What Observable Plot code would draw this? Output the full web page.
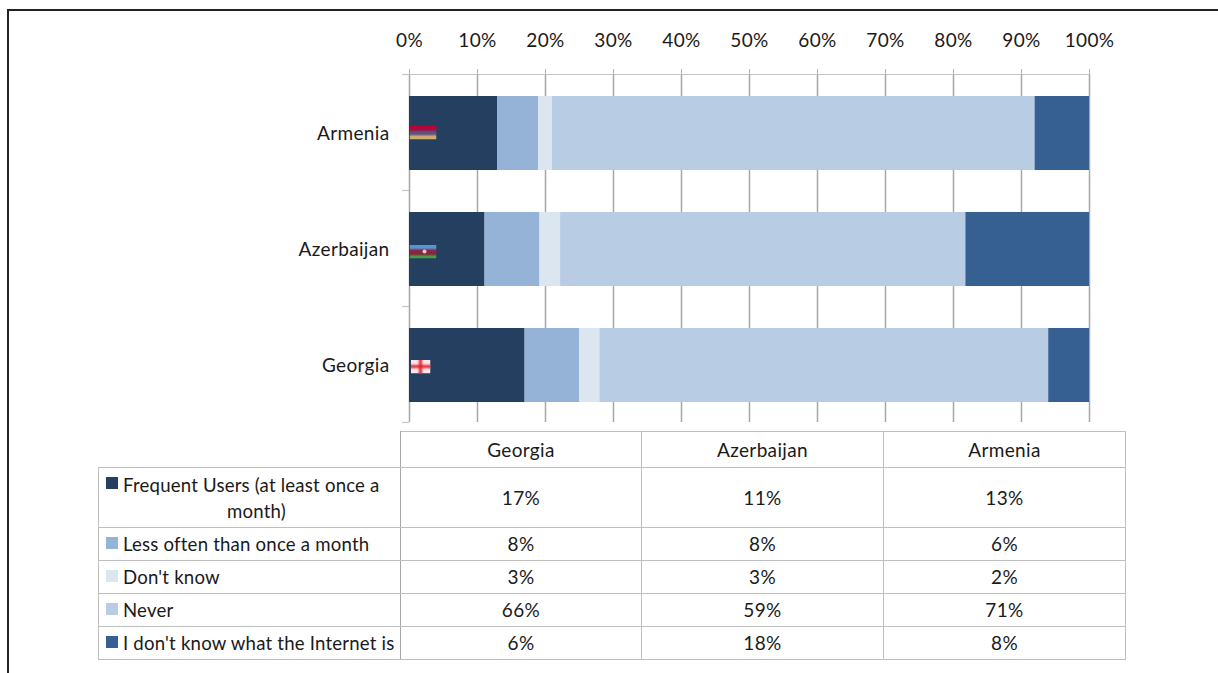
<!DOCTYPE html>
<html><head><meta charset="utf-8">
<script src="https://cdn.jsdelivr.net/npm/d3@7"></script>
<script src="https://cdn.jsdelivr.net/npm/@observablehq/plot@0.6"></script>
<style>
html,body{margin:0;padding:0;background:#fff;width:1218px;height:673px;overflow:hidden}
body{font-family:Lato,"Noto Sans",sans-serif;color:#1a1a1a}
#frame{position:absolute;left:7px;top:9px;right:0;bottom:0;border-left:2px solid #222;border-top:2px solid #222;box-sizing:border-box}
#chart{position:absolute;left:0;top:0}
#chart svg{overflow:visible;background:transparent}
#chart text{letter-spacing:.35px}
#tbl{position:absolute;left:98px;top:431px;border-collapse:collapse;table-layout:fixed;font-size:19px;line-height:26px;letter-spacing:.35px;font-weight:400}
#tbl td{border:1px solid #bfbfbf;padding:0;text-align:center;box-sizing:border-box}
#tbl td.blank{border:none;border-bottom:1px solid #bfbfbf;border-right:1px solid #a6a6a6}
#tbl td.lab{border-right:1px solid #a6a6a6;text-align:left;padding-left:24px;position:relative;white-space:nowrap;font-size:18.6px;letter-spacing:.2px;overflow:visible}
#tbl td.lab.wrap{padding-right:10px}
#tbl td.lab.wrap div.second{text-align:center}
.sw{position:absolute;left:7px;width:12px;height:12px;top:9px}
</style></head><body>
<div id="frame"></div>
<div id="chart"></div>
<table id="tbl"></table>
<script>
const countries = ["Armenia", "Azerbaijan", "Georgia"];
const tableCountries = ["Georgia", "Azerbaijan", "Armenia"];
const seriesNames = ["Frequent Users (at least once a month)", "Less often than once a month", "Don't know", "Never", "I don't know what the Internet is"];
const seriesColors = ["#243f5f", "#95b3d7", "#dce6f1", "#b8cce4", "#366092"];
const armenia = [13, 6, 2, 71, 8];
const azerbaijan = [11, 8, 3, 59, 18];
const georgia = [17, 8, 3, 66, 6];
const ticks = [0, 10, 20, 30, 40, 50, 60, 70, 80, 90, 100];

const byCountry = {Armenia: armenia, Azerbaijan: azerbaijan, Georgia: georgia};
const rows = countries.flatMap(c => seriesNames.map((s, i) => ({country: c, series: s, value: byCountry[c][i], order: i})));

const svgUri = s => "data:image/svg+xml;utf8," + encodeURIComponent(s);
const flagArmenia = svgUri(`<svg xmlns="http://www.w3.org/2000/svg" width="27" height="14" preserveAspectRatio="none"><defs><linearGradient id="g" x1="0" y1="0" x2="0" y2="1"><stop offset="0" stop-color="#c00030"/><stop offset=".27" stop-color="#b00838"/><stop offset=".45" stop-color="#604a80"/><stop offset=".62" stop-color="#6a5480"/><stop offset=".78" stop-color="#c8a870"/><stop offset="1" stop-color="#d4b070"/></linearGradient></defs><rect width="27" height="14" fill="url(#g)"/></svg>`);
const flagAzerbaijan = svgUri(`<svg xmlns="http://www.w3.org/2000/svg" width="27" height="14" preserveAspectRatio="none"><defs><linearGradient id="g" x1="0" y1="0" x2="0" y2="1"><stop offset="0" stop-color="#4a9ddc"/><stop offset=".25" stop-color="#5a90d0"/><stop offset=".42" stop-color="#8a2848"/><stop offset=".68" stop-color="#802838"/><stop offset=".85" stop-color="#4a9a48"/><stop offset="1" stop-color="#48a048"/></linearGradient><filter id="b"><feGaussianBlur stdDeviation=".7"/></filter></defs><rect width="27" height="14" fill="url(#g)"/><circle cx="15" cy="7" r="2" fill="#e8c8d0" filter="url(#b)"/></svg>`);
const flagGeorgia = svgUri(`<svg xmlns="http://www.w3.org/2000/svg" width="20" height="14" preserveAspectRatio="none"><defs><filter id="b" x="-20%" y="-20%" width="140%" height="140%"><feGaussianBlur stdDeviation=".9"/></filter></defs><rect width="20" height="14" fill="#fbe6e6"/><g filter="url(#b)"><rect x="8.5" y="-2" width="3" height="18" fill="#dd2030"/><rect x="-2" y="5.5" width="24" height="3" fill="#dd2030"/></g></svg>`);

const flagMark = (country, src, w, dy) => Plot.image([country], {
  x: () => 0, y: d => d, src: () => src, width: w, height: 14, dx: w / 2 + (country === "Georgia" ? 1 : 0), dy, preserveAspectRatio: "none"
});

const boundary = {stroke: "#c4c4c4", strokeWidth: 1.2};
const plot = Plot.plot({
  width: 1218, height: 431,
  marginLeft: 409, marginRight: 129, marginTop: 74, marginBottom: 9,
  style: {fontFamily: "Lato, 'Noto Sans', sans-serif", fontSize: "19px", color: "#1a1a1a", background: "transparent"},
  x: {domain: [0, 1], axis: null},
  y: {domain: countries, paddingInner: 42 / 116, paddingOuter: 21 / 116, align: 0.52, axis: null},
  color: {domain: seriesNames, range: seriesColors},
  marks: [
    Plot.ruleX(ticks, {x: d => d / 100, stroke: "#a6a6a6", strokeWidth: 1.5}),
    Plot.ruleY(countries, {y: d => d, x1: () => -0.01, x2: () => 0, dy: -59, ...boundary}),
    Plot.ruleY(["Georgia"], {y: d => d, x1: () => -0.01, x2: () => 0, dy: 57, ...boundary}),
    Plot.ruleY(["Armenia"], {y: d => d, x1: () => 0, x2: () => 1, dy: -59, ...boundary}),
    Plot.barX(rows, Plot.stackX({x: "value", y: "country", fill: "series", order: "order", offset: "normalize"})),
    flagMark("Armenia", flagArmenia, 27, -1),
    flagMark("Azerbaijan", flagAzerbaijan, 27, 2),
    flagMark("Georgia", flagGeorgia, 20, 1),
    Plot.axisX(ticks.map(d => d / 100), {anchor: "top", tickFormat: d => Math.round(d * 100) + "%", tickSize: 6, tickPadding: 22, stroke: "#b4b4b4", fill: "#1a1a1a", fontSize: 19, label: null}),
    Plot.axisY({anchor: "left", tickSize: 0, tickPadding: 20, fill: "#1a1a1a", fontSize: 19, label: null})
  ]
});
document.getElementById("chart").appendChild(plot);

const heights = [60, 33, 33, 33, 33];
const widths = [302, 241, 242, 242];
const tbl = document.getElementById("tbl");
tbl.style.width = d3.sum(widths) + "px";
const cg = document.createElement("colgroup");
widths.forEach(w => { const c = document.createElement("col"); c.style.width = w + "px"; cg.appendChild(c); });
tbl.appendChild(cg);
const hdr = tbl.insertRow();
hdr.style.height = "36px";
const blank = hdr.insertCell(); blank.className = "blank";
tableCountries.forEach(c => { hdr.insertCell().textContent = c; });
seriesNames.forEach((s, i) => {
  const r = tbl.insertRow();
  r.style.height = heights[i] + "px";
  const l = r.insertCell(); l.className = i === 0 ? "lab wrap" : "lab";
  const sw = document.createElement("span"); sw.className = "sw"; sw.style.background = seriesColors[i];
  l.appendChild(sw);
  if (i === 0) {
    const cut = s.lastIndexOf(" ");
    const first = document.createElement("div"); first.textContent = s.slice(0, cut);
    const second = document.createElement("div"); second.className = "second"; second.textContent = s.slice(cut + 1);
    l.appendChild(first); l.appendChild(second);
  } else {
    l.appendChild(document.createTextNode(s));
  }
  tableCountries.forEach(c => { r.insertCell().textContent = byCountry[c][i] + "%"; });
});
</script>
</body></html>
